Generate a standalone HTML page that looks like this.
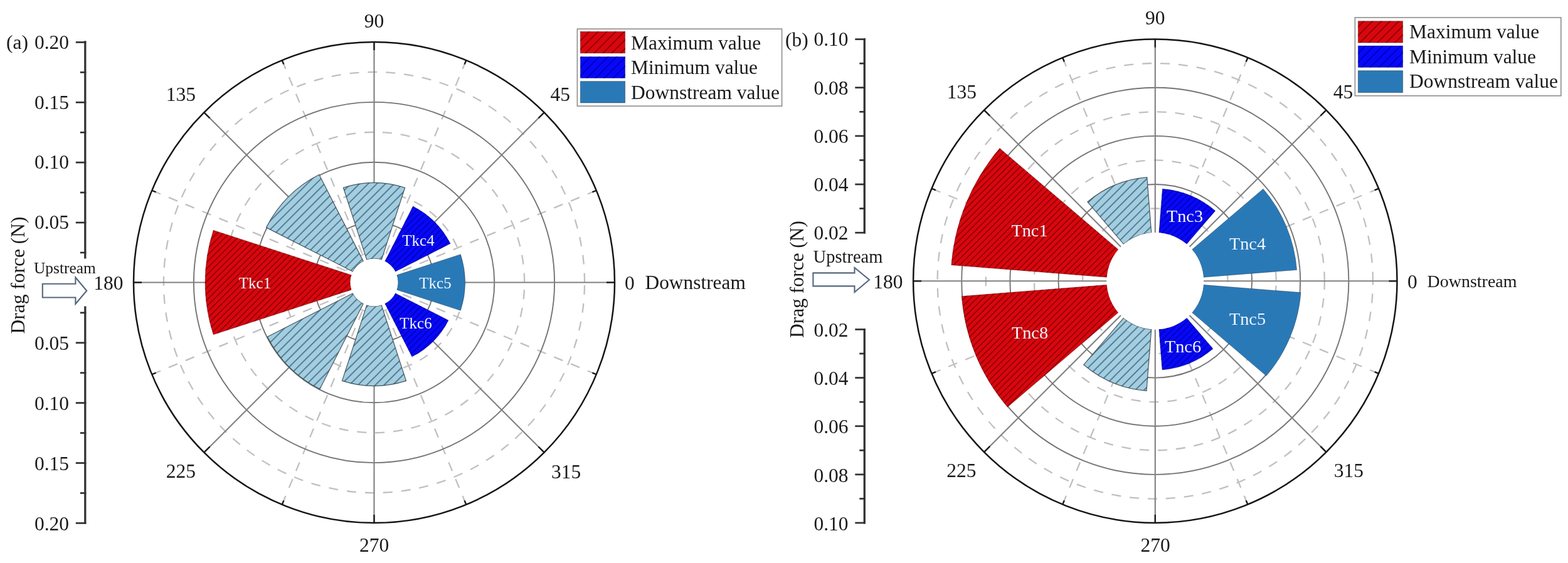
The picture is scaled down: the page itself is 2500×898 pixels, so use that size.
<!DOCTYPE html>
<html lang="en"><head><meta charset="utf-8"><title>Drag force polar charts</title>
<style>
html,body{margin:0;padding:0;background:#fff;}
body{width:2500px;height:898px;overflow:hidden;}
svg{display:block;}
text{font-family:"Liberation Serif", serif;}
.t{font-size:31.5px;fill:#1a1a1a;}
.bl{fill:#eef6ff;text-anchor:middle;}
.gs{fill:none;stroke:#747474;stroke-width:1.9;}
.gr{fill:none;stroke:#808080;stroke-width:2.1;}
.gd{fill:none;stroke:#c0c0c0;stroke-width:2.3;stroke-dasharray:15 14;}
.oc{fill:none;stroke:#151515;stroke-width:2.5;}
.tk{stroke:#1c1c1c;stroke-width:2.4;}
.ax{stroke:#333;stroke-width:3.3;}
.at{stroke:#303030;stroke-width:2.7;}
.bo{stroke:#2f3f48;stroke-width:1.2;stroke-opacity:.85;}
.bo2{stroke:#000;stroke-width:1;stroke-opacity:.3;}
.ar{fill:#fdfeff;stroke:#56667c;stroke-width:2.1;stroke-linejoin:miter;}
.lg{fill:#fff;stroke:#8c8c8c;stroke-width:1.6;}
</style></head><body>
<svg width="2500" height="898" viewBox="0 0 2500 898" role="img" aria-label="Polar bar charts of drag force">
<defs>
<pattern id="hRa" patternUnits="userSpaceOnUse" width="7.1" height="7.1" patternTransform="translate(0 0) rotate(-45)"><line x1="0" y1="3.55" x2="7.1" y2="3.55" stroke="#8c0000" stroke-width="1.6"/></pattern>
<pattern id="hBa" patternUnits="userSpaceOnUse" width="7.1" height="7.1" patternTransform="translate(0 0) rotate(-45)"><line x1="0" y1="3.55" x2="7.1" y2="3.55" stroke="#0000b8" stroke-width="1.6"/></pattern>
<pattern id="hLa" patternUnits="userSpaceOnUse" width="9.8" height="9.8" patternTransform="translate(0 0) rotate(-45)"><line x1="0" y1="4.9" x2="9.8" y2="4.9" stroke="#3d6478" stroke-width="1.5"/></pattern>
<pattern id="hRb" patternUnits="userSpaceOnUse" width="7.1" height="7.1" patternTransform="translate(0 0) rotate(-45)"><line x1="0" y1="3.55" x2="7.1" y2="3.55" stroke="#8c0000" stroke-width="1.6"/></pattern>
<pattern id="hBb" patternUnits="userSpaceOnUse" width="7.1" height="7.1" patternTransform="translate(0 0) rotate(-45)"><line x1="0" y1="3.55" x2="7.1" y2="3.55" stroke="#0000b8" stroke-width="1.6"/></pattern>
<pattern id="hLb" patternUnits="userSpaceOnUse" width="9.8" height="9.8" patternTransform="translate(0 0) rotate(-45)"><line x1="0" y1="4.9" x2="9.8" y2="4.9" stroke="#3d6478" stroke-width="1.5"/></pattern>
<pattern id="hRg" patternUnits="userSpaceOnUse" width="9.9" height="9.9" patternTransform="translate(3 0) rotate(-45)"><line x1="0" y1="4.95" x2="9.9" y2="4.95" stroke="#8c0000" stroke-width="1.8"/></pattern>
<pattern id="hBg" patternUnits="userSpaceOnUse" width="9.9" height="9.9" patternTransform="translate(3 0) rotate(-45)"><line x1="0" y1="4.95" x2="9.9" y2="4.95" stroke="#0000b8" stroke-width="1.8"/></pattern>
</defs>
<rect width="2500" height="898" fill="#fff"/>
<g>
<path d="M644.44 450.5A47.94 47.94 0 1 0 548.56 450.5A47.94 47.94 0 1 0 644.44 450.5" class="gd"/>
<path d="M740.31 450.5A143.81 143.81 0 1 0 452.69 450.5A143.81 143.81 0 1 0 740.31 450.5" class="gd"/>
<path d="M836.19 450.5A239.69 239.69 0 1 0 356.81 450.5A239.69 239.69 0 1 0 836.19 450.5" class="gd"/>
<path d="M932.06 450.5A335.56 335.56 0 1 0 260.94 450.5A335.56 335.56 0 1 0 932.06 450.5" class="gd"/>
<line x1="950.81" y1="303.74" x2="631.61" y2="435.96" class="gd"/>
<line x1="743.26" y1="96.19" x2="611.04" y2="415.39" class="gd"/>
<line x1="449.74" y1="96.19" x2="581.96" y2="415.39" class="gd"/>
<line x1="242.19" y1="303.74" x2="561.39" y2="435.96" class="gd"/>
<line x1="242.19" y1="597.26" x2="561.39" y2="465.04" class="gd"/>
<line x1="449.74" y1="804.81" x2="581.96" y2="485.61" class="gd"/>
<line x1="743.26" y1="804.81" x2="611.04" y2="485.61" class="gd"/>
<line x1="950.81" y1="597.26" x2="631.61" y2="465.04" class="gd"/>
<circle cx="596.5" cy="450.5" r="95.88" class="gs"/>
<circle cx="596.5" cy="450.5" r="191.75" class="gs"/>
<circle cx="596.5" cy="450.5" r="287.62" class="gs"/>
<line x1="634.5" y1="450.5" x2="980" y2="450.5" class="gr"/>
<line x1="623.37" y1="423.63" x2="867.68" y2="179.32" class="gr"/>
<line x1="596.5" y1="412.5" x2="596.5" y2="67" class="gr"/>
<line x1="569.63" y1="423.63" x2="325.32" y2="179.32" class="gr"/>
<line x1="558.5" y1="450.5" x2="213" y2="450.5" class="gr"/>
<line x1="569.63" y1="477.37" x2="325.32" y2="721.68" class="gr"/>
<line x1="596.5" y1="488.5" x2="596.5" y2="834" class="gr"/>
<line x1="623.37" y1="477.37" x2="867.68" y2="721.68" class="gr"/>
<path d="M632.64 462.24L734.4 495.31A145 145 0 0 0 734.4 405.69L632.64 438.76A38 38 0 0 1 632.64 462.24Z" fill="#2a79b7"/>
<path d="M632.64 462.24L734.4 495.31A145 145 0 0 0 734.4 405.69L632.64 438.76A38 38 0 0 1 632.64 462.24Z" fill="none" class="bo2"/>
<path d="M630.36 433.25L718.12 388.53A136.5 136.5 0 0 0 658.47 328.88L613.75 416.64A38 38 0 0 1 630.36 433.25Z" fill="#0808f8"/>
<path d="M630.36 433.25L718.12 388.53A136.5 136.5 0 0 0 658.47 328.88L613.75 416.64A38 38 0 0 1 630.36 433.25Z" fill="url(#hBa)"/>
<path d="M630.36 433.25L718.12 388.53A136.5 136.5 0 0 0 658.47 328.88L613.75 416.64A38 38 0 0 1 630.36 433.25Z" fill="none" class="bo2"/>
<path d="M608.24 414.36L645.63 299.28A159 159 0 0 0 547.37 299.28L584.76 414.36A38 38 0 0 1 608.24 414.36Z" fill="#a3cde0"/>
<path d="M608.24 414.36L645.63 299.28A159 159 0 0 0 547.37 299.28L584.76 414.36A38 38 0 0 1 608.24 414.36Z" fill="url(#hLa)"/>
<path d="M608.24 414.36L645.63 299.28A159 159 0 0 0 547.37 299.28L584.76 414.36A38 38 0 0 1 608.24 414.36Z" fill="none" class="bo"/>
<path d="M579.25 416.64L508.88 278.54A193 193 0 0 0 424.54 362.88L562.64 433.25A38 38 0 0 1 579.25 416.64Z" fill="#a3cde0"/>
<path d="M579.25 416.64L508.88 278.54A193 193 0 0 0 424.54 362.88L562.64 433.25A38 38 0 0 1 579.25 416.64Z" fill="url(#hLa)"/>
<path d="M579.25 416.64L508.88 278.54A193 193 0 0 0 424.54 362.88L562.64 433.25A38 38 0 0 1 579.25 416.64Z" fill="none" class="bo"/>
<path d="M560.36 438.76L340.19 367.22A269.5 269.5 0 0 0 340.19 533.78L560.36 462.24A38 38 0 0 1 560.36 438.76Z" fill="#d8070f"/>
<path d="M560.36 438.76L340.19 367.22A269.5 269.5 0 0 0 340.19 533.78L560.36 462.24A38 38 0 0 1 560.36 438.76Z" fill="url(#hRa)"/>
<path d="M560.36 438.76L340.19 367.22A269.5 269.5 0 0 0 340.19 533.78L560.36 462.24A38 38 0 0 1 560.36 438.76Z" fill="none" class="bo2"/>
<path d="M562.64 467.75L426.32 537.21A191 191 0 0 0 509.79 620.68L579.25 484.36A38 38 0 0 1 562.64 467.75Z" fill="#a3cde0"/>
<path d="M562.64 467.75L426.32 537.21A191 191 0 0 0 509.79 620.68L579.25 484.36A38 38 0 0 1 562.64 467.75Z" fill="url(#hLa)"/>
<path d="M562.64 467.75L426.32 537.21A191 191 0 0 0 509.79 620.68L579.25 484.36A38 38 0 0 1 562.64 467.75Z" fill="none" class="bo"/>
<path d="M584.76 486.64L545.51 607.42A165 165 0 0 0 647.49 607.42L608.24 486.64A38 38 0 0 1 584.76 486.64Z" fill="#a3cde0"/>
<path d="M584.76 486.64L545.51 607.42A165 165 0 0 0 647.49 607.42L608.24 486.64A38 38 0 0 1 584.76 486.64Z" fill="url(#hLa)"/>
<path d="M584.76 486.64L545.51 607.42A165 165 0 0 0 647.49 607.42L608.24 486.64A38 38 0 0 1 584.76 486.64Z" fill="none" class="bo"/>
<path d="M613.75 484.36L656.88 569A133 133 0 0 0 715 510.88L630.36 467.75A38 38 0 0 1 613.75 484.36Z" fill="#0808f8"/>
<path d="M613.75 484.36L656.88 569A133 133 0 0 0 715 510.88L630.36 467.75A38 38 0 0 1 613.75 484.36Z" fill="url(#hBa)"/>
<path d="M613.75 484.36L656.88 569A133 133 0 0 0 715 510.88L630.36 467.75A38 38 0 0 1 613.75 484.36Z" fill="none" class="bo2"/>
<circle cx="596.5" cy="450.5" r="38" fill="#fff"/>
<line x1="980" y1="450.5" x2="967" y2="450.5" class="tk"/>
<line x1="950.81" y1="303.74" x2="944.34" y2="306.42" class="tk"/>
<line x1="867.68" y1="179.32" x2="858.48" y2="188.52" class="tk"/>
<line x1="743.26" y1="96.19" x2="740.58" y2="102.66" class="tk"/>
<line x1="596.5" y1="67" x2="596.5" y2="80" class="tk"/>
<line x1="449.74" y1="96.19" x2="452.42" y2="102.66" class="tk"/>
<line x1="325.32" y1="179.32" x2="334.52" y2="188.52" class="tk"/>
<line x1="242.19" y1="303.74" x2="248.66" y2="306.42" class="tk"/>
<line x1="213" y1="450.5" x2="226" y2="450.5" class="tk"/>
<line x1="242.19" y1="597.26" x2="248.66" y2="594.58" class="tk"/>
<line x1="325.32" y1="721.68" x2="334.52" y2="712.48" class="tk"/>
<line x1="449.74" y1="804.81" x2="452.42" y2="798.34" class="tk"/>
<line x1="596.5" y1="834" x2="596.5" y2="821" class="tk"/>
<line x1="743.26" y1="804.81" x2="740.58" y2="798.34" class="tk"/>
<line x1="867.68" y1="721.68" x2="858.48" y2="712.48" class="tk"/>
<line x1="950.81" y1="597.26" x2="944.34" y2="594.58" class="tk"/>
<circle cx="596.5" cy="450.5" r="383.5" class="oc"/>
<text x="406.5" y="459.5" class="bl" style="font-size:25px">Tkc1</text>
<text x="667" y="392" class="bl" style="font-size:25px">Tkc4</text>
<text x="694" y="460" class="bl" style="font-size:25px">Tkc5</text>
<text x="663" y="524" class="bl" style="font-size:25px">Tkc6</text>
<text x="596.5" y="43.7" class="t" text-anchor="middle">90</text>
<text x="596.6" y="880" class="t" text-anchor="middle">270</text>
<text x="196.5" y="461.6" class="t" text-anchor="end">180</text>
<text x="996" y="461.6" class="t" text-anchor="start">0</text>
<text x="312" y="161.1" class="t" text-anchor="end">135</text>
<text x="877.5" y="160.6" class="t" text-anchor="start">45</text>
<text x="312" y="762.1" class="t" text-anchor="end">225</text>
<text x="879" y="762.6" class="t" text-anchor="start">315</text>
<line x1="135.8" y1="65.3" x2="135.8" y2="412.4" class="ax"/>
<line x1="135.8" y1="488.5" x2="135.8" y2="835.5" class="ax"/>
<line x1="120.8" y1="67.4" x2="137.3" y2="67.4" class="at"/>
<line x1="127.8" y1="115.34" x2="137.3" y2="115.34" class="at"/>
<line x1="120.8" y1="163.28" x2="137.3" y2="163.28" class="at"/>
<line x1="127.8" y1="211.21" x2="137.3" y2="211.21" class="at"/>
<line x1="120.8" y1="259.15" x2="137.3" y2="259.15" class="at"/>
<line x1="127.8" y1="307.09" x2="137.3" y2="307.09" class="at"/>
<line x1="120.8" y1="355.02" x2="137.3" y2="355.02" class="at"/>
<line x1="127.8" y1="402.96" x2="137.3" y2="402.96" class="at"/>
<line x1="120.8" y1="834.4" x2="137.3" y2="834.4" class="at"/>
<line x1="127.8" y1="786.46" x2="137.3" y2="786.46" class="at"/>
<line x1="120.8" y1="738.52" x2="137.3" y2="738.52" class="at"/>
<line x1="127.8" y1="690.59" x2="137.3" y2="690.59" class="at"/>
<line x1="120.8" y1="642.65" x2="137.3" y2="642.65" class="at"/>
<line x1="127.8" y1="594.71" x2="137.3" y2="594.71" class="at"/>
<line x1="120.8" y1="546.77" x2="137.3" y2="546.77" class="at"/>
<line x1="127.8" y1="498.84" x2="137.3" y2="498.84" class="at"/>
<text x="110" y="77.7" class="t" text-anchor="end">0.20</text>
<text x="110" y="173.57" class="t" text-anchor="end">0.15</text>
<text x="110" y="269.45" class="t" text-anchor="end">0.10</text>
<text x="110" y="365.32" class="t" text-anchor="end">0.05</text>
<text x="110" y="845.8" class="t" text-anchor="end">0.20</text>
<text x="110" y="749.92" class="t" text-anchor="end">0.15</text>
<text x="110" y="654.05" class="t" text-anchor="end">0.10</text>
<text x="110" y="558.17" class="t" text-anchor="end">0.05</text>
<text x="10" y="77.7" class="t">(a)</text>
<text transform="translate(39 439) rotate(-90)" class="t" text-anchor="middle">Drag force (N)</text>
<text x="54" y="436.3" class="t" style="font-size:25.4px">Upstream</text>
<text x="1028.5" y="460.6" class="t" style="font-size:31.4px">Downstream</text>
<polygon points="67.8,452.8 120.4,452.8 120.4,442.5 138.2,463.7 120.4,484.8 120.4,474.5 67.8,474.5" class="ar"/>
<rect x="920.4" y="46.2" width="326.2" height="123" class="lg"/>
<rect x="925.4" y="50.4" width="71.2" height="34.4" fill="#d8070f"/>
<rect x="925.4" y="50.4" width="71.2" height="34.4" fill="url(#hRg)"/>
<rect x="925.4" y="50.4" width="71.2" height="34.4" fill="none" stroke="rgba(0,0,0,.35)" stroke-width="1"/>
<text x="1006" y="79" class="t">Maximum value</text>
<rect x="925.4" y="90.5" width="71.2" height="34" fill="#0808f8"/>
<rect x="925.4" y="90.5" width="71.2" height="34" fill="url(#hBg)"/>
<rect x="925.4" y="90.5" width="71.2" height="34" fill="none" stroke="rgba(0,0,0,.35)" stroke-width="1"/>
<text x="1006" y="118" class="t">Minimum value</text>
<rect x="925.4" y="129.7" width="71.2" height="34.3" fill="#2a79b7"/>
<rect x="925.4" y="129.7" width="71.2" height="34.3" fill="none" stroke="rgba(0,0,0,.35)" stroke-width="1"/>
<text x="1006" y="157.8" class="t">Downstream value</text>
</g>
<g>
<path d="M1957.51 448.3A115.71 115.71 0 1 0 1726.09 448.3A115.71 115.71 0 1 0 1957.51 448.3" class="gd"/>
<path d="M2034.65 448.3A192.85 192.85 0 1 0 1648.95 448.3A192.85 192.85 0 1 0 2034.65 448.3" class="gd"/>
<path d="M2111.79 448.3A269.99 269.99 0 1 0 1571.81 448.3A269.99 269.99 0 1 0 2111.79 448.3" class="gd"/>
<path d="M2188.93 448.3A347.13 347.13 0 1 0 1494.67 448.3A347.13 347.13 0 1 0 2188.93 448.3" class="gd"/>
<line x1="2198.14" y1="300.7" x2="1913.22" y2="418.72" class="gd"/>
<line x1="1989.4" y1="91.96" x2="1871.38" y2="376.88" class="gd"/>
<line x1="1694.2" y1="91.96" x2="1812.22" y2="376.88" class="gd"/>
<line x1="1485.46" y1="300.7" x2="1770.38" y2="418.72" class="gd"/>
<line x1="1485.46" y1="595.9" x2="1770.38" y2="477.88" class="gd"/>
<line x1="1694.2" y1="804.64" x2="1812.22" y2="519.72" class="gd"/>
<line x1="1989.4" y1="804.64" x2="1871.38" y2="519.72" class="gd"/>
<line x1="2198.14" y1="595.9" x2="1913.22" y2="477.88" class="gd"/>
<circle cx="1841.8" cy="448.3" r="154.28" class="gs"/>
<circle cx="1841.8" cy="448.3" r="231.42" class="gs"/>
<circle cx="1841.8" cy="448.3" r="308.56" class="gs"/>
<line x1="1919.1" y1="448.3" x2="2227.5" y2="448.3" class="gr"/>
<line x1="1896.46" y1="393.64" x2="2114.53" y2="175.57" class="gr"/>
<line x1="1841.8" y1="371" x2="1841.8" y2="62.6" class="gr"/>
<line x1="1787.14" y1="393.64" x2="1569.07" y2="175.57" class="gr"/>
<line x1="1764.5" y1="448.3" x2="1456.1" y2="448.3" class="gr"/>
<line x1="1787.14" y1="502.96" x2="1569.07" y2="721.03" class="gr"/>
<line x1="1841.8" y1="525.6" x2="1841.8" y2="834" class="gr"/>
<line x1="1896.46" y1="502.96" x2="2114.53" y2="721.03" class="gr"/>
<path d="M1918.86 442.24L2067.6 430.53A226.5 226.5 0 0 0 2014.03 301.2L1900.58 398.1A77.3 77.3 0 0 1 1918.86 442.24Z" fill="#2a79b7"/>
<path d="M1918.86 442.24L2067.6 430.53A226.5 226.5 0 0 0 2014.03 301.2L1900.58 398.1A77.3 77.3 0 0 1 1918.86 442.24Z" fill="none" class="bo2"/>
<path d="M1892 389.52L1937.59 336.14A147.5 147.5 0 0 0 1853.37 301.25L1847.86 371.24A77.3 77.3 0 0 1 1892 389.52Z" fill="#0808f8"/>
<path d="M1892 389.52L1937.59 336.14A147.5 147.5 0 0 0 1853.37 301.25L1847.86 371.24A77.3 77.3 0 0 1 1892 389.52Z" fill="url(#hBb)"/>
<path d="M1892 389.52L1937.59 336.14A147.5 147.5 0 0 0 1853.37 301.25L1847.86 371.24A77.3 77.3 0 0 1 1892 389.52Z" fill="none" class="bo2"/>
<path d="M1835.74 371.24L1828.78 282.81A166 166 0 0 0 1733.99 322.07L1791.6 389.52A77.3 77.3 0 0 1 1835.74 371.24Z" fill="#a3cde0"/>
<path d="M1835.74 371.24L1828.78 282.81A166 166 0 0 0 1733.99 322.07L1791.6 389.52A77.3 77.3 0 0 1 1835.74 371.24Z" fill="url(#hLb)"/>
<path d="M1835.74 371.24L1828.78 282.81A166 166 0 0 0 1733.99 322.07L1791.6 389.52A77.3 77.3 0 0 1 1835.74 371.24Z" fill="none" class="bo"/>
<path d="M1783.02 398.1L1593.91 236.58A326 326 0 0 0 1516.8 422.72L1764.74 442.24A77.3 77.3 0 0 1 1783.02 398.1Z" fill="#d8070f"/>
<path d="M1783.02 398.1L1593.91 236.58A326 326 0 0 0 1516.8 422.72L1764.74 442.24A77.3 77.3 0 0 1 1783.02 398.1Z" fill="url(#hRb)"/>
<path d="M1783.02 398.1L1593.91 236.58A326 326 0 0 0 1516.8 422.72L1764.74 442.24A77.3 77.3 0 0 1 1783.02 398.1Z" fill="none" class="bo2"/>
<path d="M1764.74 454.36L1533.25 472.58A309.5 309.5 0 0 0 1606.45 649.3L1783.02 498.5A77.3 77.3 0 0 1 1764.74 454.36Z" fill="#d8070f"/>
<path d="M1764.74 454.36L1533.25 472.58A309.5 309.5 0 0 0 1606.45 649.3L1783.02 498.5A77.3 77.3 0 0 1 1764.74 454.36Z" fill="url(#hRb)"/>
<path d="M1764.74 454.36L1533.25 472.58A309.5 309.5 0 0 0 1606.45 649.3L1783.02 498.5A77.3 77.3 0 0 1 1764.74 454.36Z" fill="none" class="bo2"/>
<path d="M1791.6 507.08L1727.76 581.83A175.6 175.6 0 0 0 1828.02 623.36L1835.74 525.36A77.3 77.3 0 0 1 1791.6 507.08Z" fill="#a3cde0"/>
<path d="M1791.6 507.08L1727.76 581.83A175.6 175.6 0 0 0 1828.02 623.36L1835.74 525.36A77.3 77.3 0 0 1 1791.6 507.08Z" fill="url(#hLb)"/>
<path d="M1791.6 507.08L1727.76 581.83A175.6 175.6 0 0 0 1828.02 623.36L1835.74 525.36A77.3 77.3 0 0 1 1791.6 507.08Z" fill="none" class="bo"/>
<path d="M1847.86 525.36L1852.94 589.86A142 142 0 0 0 1934.02 556.28L1892 507.08A77.3 77.3 0 0 1 1847.86 525.36Z" fill="#0808f8"/>
<path d="M1847.86 525.36L1852.94 589.86A142 142 0 0 0 1934.02 556.28L1892 507.08A77.3 77.3 0 0 1 1847.86 525.36Z" fill="url(#hBb)"/>
<path d="M1847.86 525.36L1852.94 589.86A142 142 0 0 0 1934.02 556.28L1892 507.08A77.3 77.3 0 0 1 1847.86 525.36Z" fill="none" class="bo2"/>
<path d="M1900.58 498.5L2018.97 599.62A233 233 0 0 0 2074.08 466.58L1918.86 454.36A77.3 77.3 0 0 1 1900.58 498.5Z" fill="#2a79b7"/>
<path d="M1900.58 498.5L2018.97 599.62A233 233 0 0 0 2074.08 466.58L1918.86 454.36A77.3 77.3 0 0 1 1900.58 498.5Z" fill="none" class="bo2"/>
<circle cx="1841.8" cy="448.3" r="77.3" fill="#fff"/>
<line x1="2227.5" y1="448.3" x2="2214.5" y2="448.3" class="tk"/>
<line x1="2198.14" y1="300.7" x2="2191.67" y2="303.38" class="tk"/>
<line x1="2114.53" y1="175.57" x2="2105.34" y2="184.76" class="tk"/>
<line x1="1989.4" y1="91.96" x2="1986.72" y2="98.43" class="tk"/>
<line x1="1841.8" y1="62.6" x2="1841.8" y2="75.6" class="tk"/>
<line x1="1694.2" y1="91.96" x2="1696.88" y2="98.43" class="tk"/>
<line x1="1569.07" y1="175.57" x2="1578.26" y2="184.76" class="tk"/>
<line x1="1485.46" y1="300.7" x2="1491.93" y2="303.38" class="tk"/>
<line x1="1456.1" y1="448.3" x2="1469.1" y2="448.3" class="tk"/>
<line x1="1485.46" y1="595.9" x2="1491.93" y2="593.22" class="tk"/>
<line x1="1569.07" y1="721.03" x2="1578.26" y2="711.84" class="tk"/>
<line x1="1694.2" y1="804.64" x2="1696.88" y2="798.17" class="tk"/>
<line x1="1841.8" y1="834" x2="1841.8" y2="821" class="tk"/>
<line x1="1989.4" y1="804.64" x2="1986.72" y2="798.17" class="tk"/>
<line x1="2114.53" y1="721.03" x2="2105.34" y2="711.84" class="tk"/>
<line x1="2198.14" y1="595.9" x2="2191.67" y2="593.22" class="tk"/>
<circle cx="1841.8" cy="448.3" r="385.7" class="oc"/>
<text x="1641.5" y="377" class="bl" style="font-size:28.3px">Tnc1</text>
<text x="1642" y="539.5" class="bl" style="font-size:28.3px">Tnc8</text>
<text x="1889" y="354" class="bl" style="font-size:28.3px">Tnc3</text>
<text x="1989" y="398.3" class="bl" style="font-size:28.3px">Tnc4</text>
<text x="1989" y="518" class="bl" style="font-size:28.3px">Tnc5</text>
<text x="1886" y="562" class="bl" style="font-size:28.3px">Tnc6</text>
<text x="1841.7" y="39.3" class="t" text-anchor="middle">90</text>
<text x="1842.2" y="879.8" class="t" text-anchor="middle">270</text>
<text x="1439.6" y="459.6" class="t" text-anchor="end">180</text>
<text x="2244" y="459.6" class="t" text-anchor="start">0</text>
<text x="1557" y="157" class="t" text-anchor="end">135</text>
<text x="2125.8" y="157.4" class="t" text-anchor="start">45</text>
<text x="1556.4" y="760.9" class="t" text-anchor="end">225</text>
<text x="2126.7" y="760.9" class="t" text-anchor="start">315</text>
<line x1="1378.3" y1="61" x2="1378.3" y2="372.5" class="ax"/>
<line x1="1378.3" y1="524" x2="1378.3" y2="835.5" class="ax"/>
<line x1="1363.3" y1="62.6" x2="1379.8" y2="62.6" class="at"/>
<line x1="1370.3" y1="101.17" x2="1379.8" y2="101.17" class="at"/>
<line x1="1363.3" y1="139.74" x2="1379.8" y2="139.74" class="at"/>
<line x1="1370.3" y1="178.31" x2="1379.8" y2="178.31" class="at"/>
<line x1="1363.3" y1="216.88" x2="1379.8" y2="216.88" class="at"/>
<line x1="1370.3" y1="255.45" x2="1379.8" y2="255.45" class="at"/>
<line x1="1363.3" y1="294.02" x2="1379.8" y2="294.02" class="at"/>
<line x1="1370.3" y1="332.59" x2="1379.8" y2="332.59" class="at"/>
<line x1="1363.3" y1="371.16" x2="1379.8" y2="371.16" class="at"/>
<line x1="1363.3" y1="834" x2="1379.8" y2="834" class="at"/>
<line x1="1370.3" y1="795.43" x2="1379.8" y2="795.43" class="at"/>
<line x1="1363.3" y1="756.86" x2="1379.8" y2="756.86" class="at"/>
<line x1="1370.3" y1="718.29" x2="1379.8" y2="718.29" class="at"/>
<line x1="1363.3" y1="679.72" x2="1379.8" y2="679.72" class="at"/>
<line x1="1370.3" y1="641.15" x2="1379.8" y2="641.15" class="at"/>
<line x1="1363.3" y1="602.58" x2="1379.8" y2="602.58" class="at"/>
<line x1="1370.3" y1="564.01" x2="1379.8" y2="564.01" class="at"/>
<line x1="1363.3" y1="525.44" x2="1379.8" y2="525.44" class="at"/>
<text x="1352.5" y="73.4" class="t" text-anchor="end">0.10</text>
<text x="1352.5" y="150.54" class="t" text-anchor="end">0.08</text>
<text x="1352.5" y="227.68" class="t" text-anchor="end">0.06</text>
<text x="1352.5" y="304.82" class="t" text-anchor="end">0.04</text>
<text x="1352.5" y="381.96" class="t" text-anchor="end">0.02</text>
<text x="1352.5" y="845.7" class="t" text-anchor="end">0.10</text>
<text x="1352.5" y="768.56" class="t" text-anchor="end">0.08</text>
<text x="1352.5" y="691.42" class="t" text-anchor="end">0.06</text>
<text x="1352.5" y="614.28" class="t" text-anchor="end">0.04</text>
<text x="1352.5" y="537.14" class="t" text-anchor="end">0.02</text>
<text x="1252" y="73.5" class="t">(b)</text>
<text transform="translate(1281 445.5) rotate(-90)" class="t" text-anchor="middle">Drag force (N)</text>
<text x="1296.6" y="419.1" class="t" style="font-size:28.5px">Upstream</text>
<text x="2275.5" y="457.8" class="t" style="font-size:28px">Downstream</text>
<polygon points="1296.4,435.4 1362.5,435.4 1362.5,427 1386,446.3 1362.5,466 1362.5,456.4 1296.4,456.4" class="ar"/>
<rect x="2160.4" y="28" width="328.4" height="124.8" class="lg"/>
<rect x="2165.4" y="33.7" width="71.2" height="34.4" fill="#d8070f"/>
<rect x="2165.4" y="33.7" width="71.2" height="34.4" fill="url(#hRg)"/>
<rect x="2165.4" y="33.7" width="71.2" height="34.4" fill="none" stroke="rgba(0,0,0,.35)" stroke-width="1"/>
<text x="2247" y="61" class="t">Maximum value</text>
<rect x="2165.4" y="73.1" width="71.2" height="34.3" fill="#0808f8"/>
<rect x="2165.4" y="73.1" width="71.2" height="34.3" fill="url(#hBg)"/>
<rect x="2165.4" y="73.1" width="71.2" height="34.3" fill="none" stroke="rgba(0,0,0,.35)" stroke-width="1"/>
<text x="2247" y="101" class="t">Minimum value</text>
<rect x="2165.4" y="112.7" width="71.2" height="35" fill="#2a79b7"/>
<rect x="2165.4" y="112.7" width="71.2" height="35" fill="none" stroke="rgba(0,0,0,.35)" stroke-width="1"/>
<text x="2247" y="140.3" class="t">Downstream value</text>
</g>
</svg></body></html>
